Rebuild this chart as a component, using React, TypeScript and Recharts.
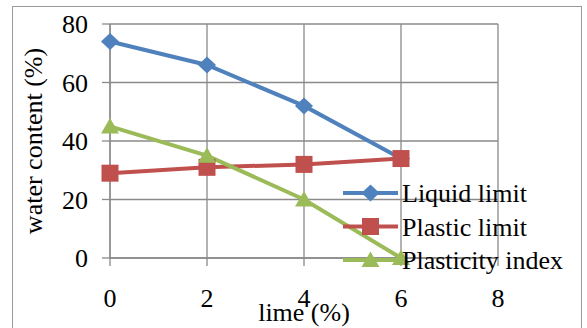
import { CartesianGrid, Label, Legend, Line, LineChart, XAxis, YAxis } from "recharts";

// lime added (%) and the Atterberg limits measured at each dosage
const limeContent = [0, 2, 4, 6];
const liquidLimit = [74, 66, 52, 34];
const plasticLimit = [29, 31, 32, 34];
const plasticityIndex = [45, 35, 20, 0];

const xTicks = [0, 2, 4, 6, 8];
const yTicks = [0, 20, 40, 60, 80];

const FONT = "'Liberation Serif', 'DejaVu Serif', serif";
const GRID = "#8a8a8a";

const data = limeContent.map((lime, i) => ({
    lime,
    liquid: liquidLimit[i],
    plastic: plasticLimit[i],
    index: plasticityIndex[i],
}));

type Marker = "diamond" | "square" | "triangle";

const series: { key: string; name: string; color: string; marker: Marker }[] = [
    { key: "liquid", name: "Liquid limit", color: "#4F81BD", marker: "diamond" },
    { key: "plastic", name: "Plastic limit", color: "#C0504D", marker: "square" },
    { key: "index", name: "Plasticity index", color: "#9BBB59", marker: "triangle" },
];

const MarkerShape = ({ cx, cy, marker, color }: { cx: number; cy: number; marker: Marker; color: string }) => {
    if (marker === "diamond") {
        return <polygon points={`${cx},${cy - 8.5} ${cx + 9},${cy} ${cx},${cy + 8.5} ${cx - 9},${cy}`} fill={color} />;
    }
    if (marker === "square") {
        return <rect x={cx - 8.5} y={cy - 8.5} width={17} height={17} fill={color} />;
    }
    return <polygon points={`${cx - 9},${cy + 7} ${cx + 9},${cy + 7} ${cx},${cy - 8.5}`} fill={color} />;
};

const LegendBox = () => (
    <svg width={240} height={102} style={{ overflow: "visible" }}>
        {series.map((s, i) => {
            const cy = 17 + i * 33.5;
            return (
                <g key={s.key}>
                    <line x1={0} x2={55} y1={cy} y2={cy} stroke={s.color} strokeWidth={4} />
                    <MarkerShape cx={27.5} cy={cy} marker={s.marker} color={s.color} />
                    <text x={59} y={cy + 9} style={{ fontFamily: FONT, fontSize: 26 }} fill="#000">
                        {s.name}
                    </text>
                </g>
            );
        })}
    </svg>
);

export default function App() {
    return (
        <div style={{ position: "absolute", left: 0, top: 0, width: 587, height: 328, background: "#fff", overflow: "hidden", fontFamily: FONT }}>
            <div
                style={{
                    position: "absolute",
                    left: 12,
                    top: 6,
                    width: 570,
                    height: 340,
                    border: "1.5px solid #9a9a9a",
                    boxSizing: "border-box",
                }}
            />
            <LineChart
                width={587}
                height={328}
                data={data}
                margin={{ top: 24, right: 89, bottom: 30, left: 50 }}
                style={{ fontFamily: FONT }}
            >
                <CartesianGrid stroke={GRID} strokeWidth={1.3} />
                <XAxis
                    dataKey="lime"
                    type="number"
                    domain={[0, 8]}
                    ticks={xTicks}
                    height={40}
                    stroke={GRID}
                    strokeWidth={1.3}
                    tickSize={8}
                    tickMargin={23}
                    tick={{ fill: "#000", fontSize: 26, style: { fontFamily: FONT } }}
                >
                    <Label
                        content={({ viewBox }: any) => (
                            <text
                                x={viewBox.x + viewBox.width / 2}
                                y={viewBox.y + 63}
                                textAnchor="middle"
                                style={{ fontFamily: FONT, fontSize: 26 }}
                                fill="#000"
                            >
                                lime (%)
                            </text>
                        )}
                    />
                </XAxis>
                <YAxis
                    type="number"
                    domain={[0, 80]}
                    ticks={yTicks}
                    width={60}
                    stroke={GRID}
                    strokeWidth={1.3}
                    tickSize={8}
                    tickMargin={14}
                    tick={{ fill: "#000", fontSize: 26, style: { fontFamily: FONT } }}
                >
                    <Label
                        content={({ viewBox }: any) => {
                            const x = viewBox.x - 8;
                            const y = viewBox.y + viewBox.height / 2;
                            return (
                                <text
                                    x={x}
                                    y={y}
                                    transform={`rotate(-90, ${x}, ${y})`}
                                    textAnchor="middle"
                                    style={{ fontFamily: FONT, fontSize: 26 }}
                                    fill="#000"
                                >
                                    water content (%)
                                </text>
                            );
                        }}
                    />
                </YAxis>
                {series.map((s) => (
                    <Line
                        key={s.key}
                        dataKey={s.key}
                        name={s.name}
                        type="linear"
                        stroke={s.color}
                        strokeWidth={4}
                        isAnimationActive={false}
                        activeDot={false}
                        dot={(p: any) => (
                            <MarkerShape key={`${s.key}-${p.index}`} cx={p.cx} cy={p.cy} marker={s.marker} color={s.color} />
                        )}
                    />
                ))}
                <Legend
                    layout="vertical"
                    align="center"
                    verticalAlign="middle"
                    content={() => <LegendBox />}
                    wrapperStyle={{ position: "absolute", left: 343, top: 176, width: 240, height: 102 }}
                />
            </LineChart>
        </div>
    );
}
